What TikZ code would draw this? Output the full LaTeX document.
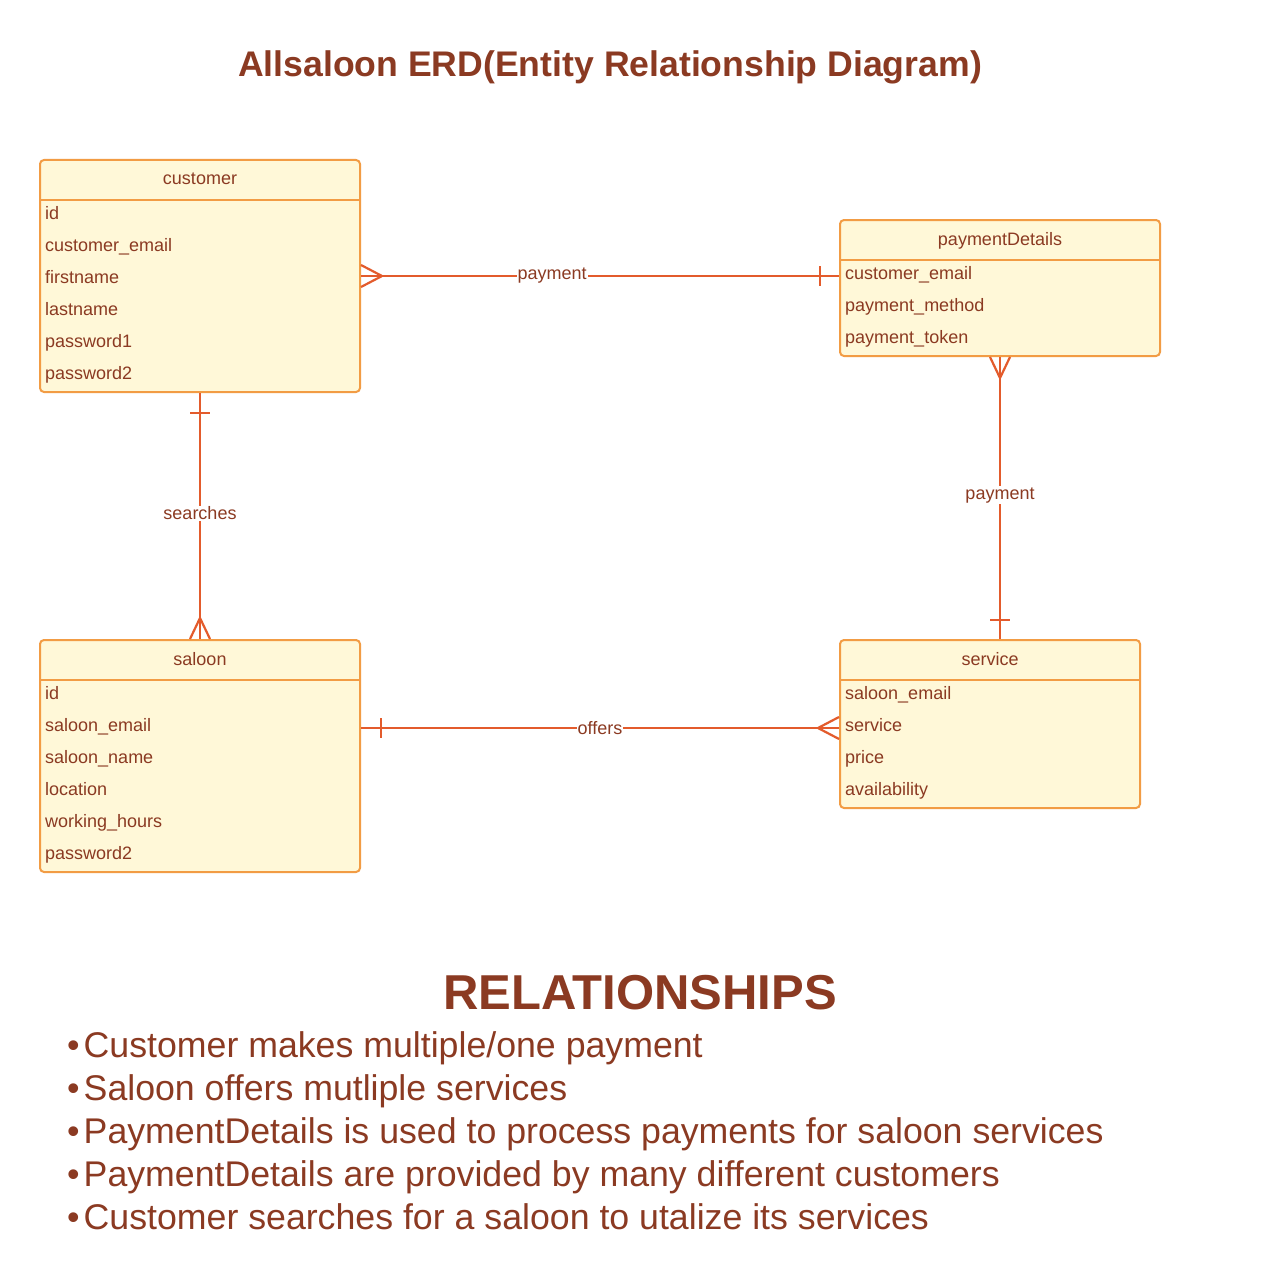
\documentclass[tikz,border=0pt]{standalone}
\usepackage{fontspec}
\setmainfont{Liberation Sans}
\definecolor{relc}{HTML}{E35B2C}
\definecolor{entb}{HTML}{F29C44}
\definecolor{entf}{HTML}{FFF8D8}
\definecolor{txt}{HTML}{8B3A22}
\newcommand{\blt}{•\hspace{4pt}}
\begin{document}
\begin{tikzpicture}[x=1pt,y=-1pt,
  ent/.style={draw=entb, fill=entf, line width=2pt, rounded corners=4pt, inner sep=0pt, outer sep=0pt, anchor=north west},
  sep/.style={draw=entb, line width=2pt},
  hdr/.style={anchor=base, text=txt, font=\fontsize{18}{20}\selectfont, inner sep=0pt},
  fld/.style={anchor=base west, text=txt, font=\fontsize{18}{20}\selectfont, inner sep=0pt},
  rel/.style={draw=relc, line width=2.8pt},
  tick/.style={draw=relc, line width=2.2pt},
  lbl/.style={fill=white, text=txt, font=\fontsize{18}{20}\selectfont, inner sep=1pt},
  bul/.style={anchor=base west, text=txt, font=\fontsize{35.7}{40}\selectfont, inner sep=0pt}]
\useasboundingbox (0,0) rectangle (1260,1284);
\fill[white] (0,0) rectangle (1260,1284);

\node[anchor=base, text=txt, font=\bfseries\fontsize{35.6}{40}\selectfont, inner sep=0pt] (title) at (610,77) {Allsaloon ERD(Entity Relationship Diagram)};

% customer
\node[ent, minimum width=320pt, minimum height=232pt] (customer) at (40,160) {};
\draw[sep] (40,200) -- (360,200);
\node[hdr] (customerh) at (200,185) {customer};
\node[fld] (c1) at (45,219.5) {id};
\node[fld] (c2) at (45,251.5) {customer\_email};
\node[fld] (c3) at (45,283.5) {firstname};
\node[fld] (c4) at (45,315.5) {lastname};
\node[fld] (c5) at (45,347.5) {password1};
\node[fld] (c6) at (45,379.5) {password2};

% paymentDetails
\node[ent, minimum width=320pt, minimum height=136pt] (payment) at (840,220) {};
\draw[sep] (840,260) -- (1160,260);
\node[hdr] (paymenth) at (1000,245) {paymentDetails};
\node[fld] (p1) at (845,279.5) {customer\_email};
\node[fld] (p2) at (845,311.5) {payment\_method};
\node[fld] (p3) at (845,343.5) {payment\_token};

% saloon
\node[ent, minimum width=320pt, minimum height=232pt] (saloon) at (40,640) {};
\draw[sep] (40,680) -- (360,680);
\node[hdr] (saloonh) at (200,665) {saloon};
\node[fld] (s1) at (45,699.5) {id};
\node[fld] (s2) at (45,731.5) {saloon\_email};
\node[fld] (s3) at (45,763.5) {saloon\_name};
\node[fld] (s4) at (45,795.5) {location};
\node[fld] (s5) at (45,827.5) {working\_hours};
\node[fld] (s6) at (45,859.5) {password2};

% service
\node[ent, minimum width=300pt, minimum height=168pt] (service) at (840,640) {};
\draw[sep] (840,680) -- (1140,680);
\node[hdr] (serviceh) at (990,665) {service};
\node[fld] (v1) at (845,699.5) {saloon\_email};
\node[fld] (v2) at (845,731.5) {service};
\node[fld] (v3) at (845,763.5) {price};
\node[fld] (v4) at (845,795.5) {availability};

% connector endpoints
\coordinate (cpE) at (361,276);
\coordinate (cpW) at (839,276);
\coordinate (csS) at (200,393);
\coordinate (csN) at (200,639);
\coordinate (psS) at (1000,357);
\coordinate (psN) at (1000,639);
\coordinate (ssE) at (361,728);
\coordinate (ssW) at (839,728);

% customer -- paymentDetails
\draw[rel] (cpE) -- node[lbl, pos=0.4] (l1) {payment} (cpW);
\draw[tick] (361,265) -- (382,276) -- (361,287);
\draw[tick] (820,266) -- (820,286);

% customer -- saloon
\draw[rel] (csS) -- node[lbl, pos=0.49] (l2) {searches} (csN);
\draw[tick] (190,413) -- (210,413);
\draw[tick] (190,639) -- (200,618) -- (210,639);

% paymentDetails -- service
\draw[rel] (psS) -- node[lbl, pos=0.49] (l3) {payment} (psN);
\draw[tick] (990,357) -- (1000,378) -- (1010,357);
\draw[tick] (990,620) -- (1010,620);

% saloon -- service
\draw[rel] (ssE) -- node[lbl, pos=0.5] (l4) {offers} (ssW);
\draw[tick] (381,718) -- (381,738);
\draw[tick] (839,717) -- (818,728) -- (839,739);

% relationships text
\node[text=txt, font=\bfseries\fontsize{49}{56}\selectfont] (relh) at (640,993) {RELATIONSHIPS};
\node[bul] (b1) at (67,1057.5) {\blt Customer makes multiple/one payment};
\node[bul] (b2) at (67,1100.5) {\blt Saloon offers mutliple services};
\node[bul] (b3) at (67,1143.5) {\blt PaymentDetails is used to process payments for saloon services};
\node[bul] (b4) at (67,1186.5) {\blt PaymentDetails are provided by many different customers};
\node[bul] (b5) at (67,1229.5) {\blt Customer searches for a saloon to utalize its services};
\end{tikzpicture}
\end{document}
